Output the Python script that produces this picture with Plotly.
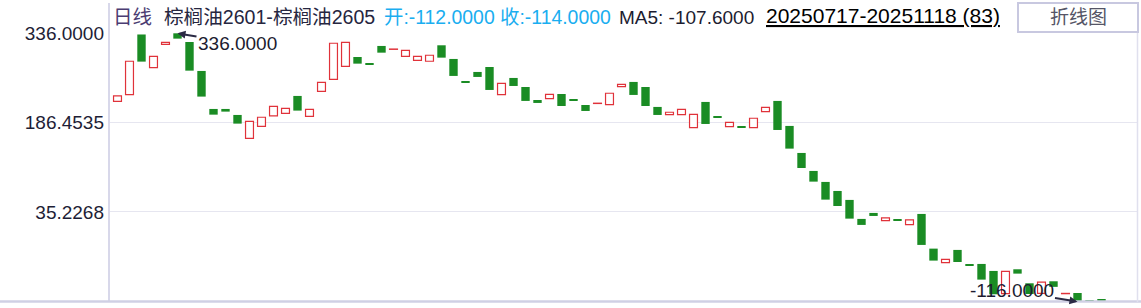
import plotly.graph_objects as go

# ---- data ----
opens = [221.5, 232.7, 334.0, 278.2, 317.5, 336.0, 321.4, 272.6, 208.6, 208.6,
         198.5, 159.2, 179.4, 196.8, 201.3, 230.5, 196.2, 238.3, 258.5, 280.4,
         296.1, 282.7, 314.7, 309.0, 297.3, 290.5, 288.9, 315.8, 292.8, 253.5,
         270.9, 279.3, 232.7, 260.8, 245.6, 223.7, 226.0, 233.8, 225.4, 215.3,
         217.8, 215.9, 246.2, 254.1, 245.6, 212.0, 199.0, 199.0, 177.2, 220.4,
         194.6, 178.8, 177.7, 177.2, 204.1, 222.1, 180.0, 134.5, 104.2, 85.7,
         70.5, 55.4, 23.4, 33.5, 20.5, 21.1, 13.8, 31.8, -26.6, -50.2,
         -28.8, -55.8, -52.4, -64.2, -102.4, -61.4, -85.0, -102.0, -81.6, -102.5,
         -101.3, -113.5, -112.0]
closes = [230.5, 288.9, 288.3, 297.3, 320.8, 327.0, 273.1, 229.4, 199.0, 204.1,
          183.9, 187.8, 194.6, 213.1, 209.7, 205.8, 208.0, 253.5, 319.2, 320.8,
          284.9, 282.7, 303.4, 309.5, 307.4, 297.3, 299.0, 295.0, 264.2, 253.5,
          262.5, 240.6, 251.8, 247.3, 222.1, 218.7, 233.3, 213.6, 222.1, 205.2,
          218.3, 235.0, 250.1, 232.2, 213.6, 198.5, 203.0, 208.0, 199.6, 183.3,
          194.6, 186.1, 177.7, 192.9, 211.4, 173.2, 141.8, 109.2, 86.2, 55.9,
          45.2, 23.9, 13.3, 28.4, 25.0, 21.1, 21.7, -20.4, -46.8, -44.6,
          -49.1, -55.8, -78.8, -103.5, -64.8, -68.7, -103.0, -83.0, -91.0, -102.0,
          -116.0, -115.0, -114.0]
tick_vals = [336.0, 186.4535, 35.2268]
tick_text = ["336.0000", "186.4535", "35.2268"]
y_max, y_min = 336.0, -116.0

RED = "#e0323a"
GREEN = "#1a8c24"
FONT = "Liberation Sans, Arial, Noto Sans CJK SC, sans-serif"

n = len(opens)
up_x, up_base, up_h = [], [], []
dn_x, dn_base, dn_h = [], [], []
for i, (o, c) in enumerate(zip(opens, closes)):
    if c > o:
        up_x.append(i); up_base.append(o); up_h.append(max(c - o, 0.5))
    else:
        dn_x.append(i); dn_base.append(c); dn_h.append(max(o - c, 1.7))

fig = go.Figure()
fig.add_trace(go.Bar(x=up_x, y=up_h, base=up_base, width=0.66,
                     marker=dict(color="white", line=dict(color=RED, width=1.2)),
                     hoverinfo="skip", showlegend=False))
fig.add_trace(go.Bar(x=dn_x, y=dn_h, base=dn_base, width=0.7,
                     marker=dict(color=GREEN, line=dict(width=0)),
                     hoverinfo="skip", showlegend=False))

W, H = 1141, 308
L, R, T, B = 109, 4, 33, 6
pw, ph = W - L - R, H - T - B
def px(x):
    return (x - L) / pw
def py(y):
    return (H - B - y) / ph

slot = 12.0
x0 = -(117.5 - L) / slot
x1 = x0 + pw / slot

ann = []
def txt(x, y, s, color, size=19, anchor="left", underline=False):
    if underline:
        s = "<u>" + s + "</u>"
    ann.append(dict(x=px(x), y=py(y), xref="paper", yref="paper", text=s,
                    showarrow=False, xanchor=anchor, yanchor="middle",
                    font=dict(family=FONT, size=size, color=color)))

txt(111, 17, "日线", "#4b3c72", size=19.5)
txt(162, 17, "棕榈油2601-棕榈油2605", "#262640", size=19.6)
txt(382, 17, "开:-112.0000 收:-114.0000", "#1aaef0", size=19.4)
txt(617, 17, "MA5: -107.6000", "#1c1c30")
txt(764, 16, "20250717-20251118 (83)", "#000000", size=21, underline=True)
txt(1078, 17, "折线图", "#555566", size=19, anchor="center")

imax = opens.index(max(opens))
imin = closes.index(min(closes))
ann.append(dict(x=imax, y=y_max, xref="x", yref="y", text="336.0000",
                showarrow=True, arrowhead=2, arrowsize=0.8, arrowwidth=2,
                arrowcolor="#2a2a44", ax=60, ay=10, xanchor="center",
                font=dict(family=FONT, size=19, color="#1c1c30")))
ann.append(dict(x=imin, y=y_min, xref="x", yref="y", text="-116.0000",
                showarrow=True, arrowhead=2, arrowsize=0.8, arrowwidth=2,
                arrowcolor="#2a2a44", ax=-66, ay=-11, xanchor="center",
                font=dict(family=FONT, size=19, color="#1c1c30")))

shapes = [
    dict(type="line", xref="paper", yref="paper", x0=px(109), x1=px(109),
         y0=py(3), y1=py(302), line=dict(color="#d8d8ea", width=2)),
    dict(type="line", xref="paper", yref="paper", x0=px(0), x1=px(1141),
         y0=py(301.5), y1=py(301.5), line=dict(color="#d0d0e4", width=2.5)),
    dict(type="line", xref="paper", yref="paper", x0=px(1137.5), x1=px(1137.5),
         y0=py(33), y1=py(302), line=dict(color="#e0e0ee", width=1.5)),
    dict(type="rect", xref="paper", yref="paper", x0=px(1018), x1=px(1138),
         y0=py(32), y1=py(3), line=dict(color="#c8c8e0", width=2),
         fillcolor="white"),
]

fig.update_layout(
    width=W, height=H,
    margin=dict(l=L, r=R, t=T, b=B, pad=0),
    paper_bgcolor="white", plot_bgcolor="white",
    barmode="overlay",
    showlegend=False,
    xaxis=dict(range=[x0, x1], showticklabels=False, showgrid=False,
               zeroline=False, showline=False, ticks=""),
    yaxis=dict(range=[-116.5, 336.5], tickvals=tick_vals, ticktext=tick_text,
               showgrid=True, gridcolor="#e6e6f0", gridwidth=1, zeroline=False,
               showline=False, ticks="", ticklabelstandoff=4,
               tickfont=dict(family=FONT, size=19, color="#1e1e36")),
    annotations=ann,
    shapes=shapes,
)

fig.write_html("out.html")
